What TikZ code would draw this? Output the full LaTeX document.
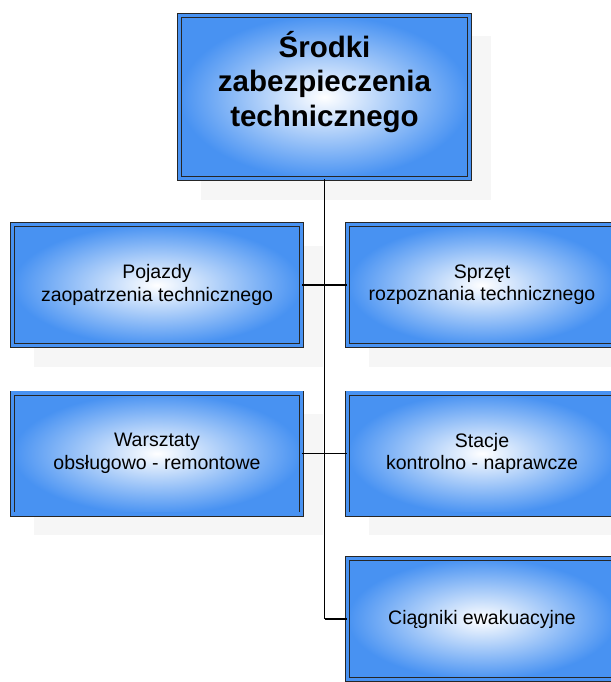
\documentclass[tikz,border=0pt]{standalone}
\usepackage{fontspec}
\setmainfont{Liberation Sans}
\usepackage{tikz}
\usetikzlibrary{positioning,shadows}
\definecolor{boxblue}{RGB}{72,146,242}
\definecolor{shadowgray}{RGB}{246,246,246}
\tikzset{every shadow/.style={fill=shadowgray,opacity=1,shadow xshift=21pt,shadow yshift=-21pt}}
\tikzset{unit/.style={rectangle,draw=black!85,line width=0.8pt,double=boxblue,double distance=3.4pt,
  inner color=white,outer color=boxblue,drop shadow,
  minimum width=289pt,minimum height=121pt,inner sep=0pt,align=center,
  font=\fontsize{19.5}{22.4}\selectfont}}
\tikzset{topunit/.style={unit,minimum width=290pt,minimum height=163pt}}
\tikzset{rightunit/.style={unit,minimum width=269pt}}
\tikzset{toptitle/.style={align=center,inner sep=0pt,font=\bfseries\fontsize{29.5}{34.5}\selectfont}}

\begin{document}
\begin{tikzpicture}[x=1pt,y=-1pt]
\useasboundingbox (0,0) rectangle (610,682);
% \draw[help lines] (0,0) grid (610,682);
\node (top) [topunit] at (324.5,97) {};
\node (toptext) [toptitle] at ([yshift=15pt]top.center) {Środki\\zabezpieczenia\\technicznego};
%
\node (pojazdy) [unit] at (157,285) {Pojazdy\\zaopatrzenia technicznego};
\node (sprzet) [rightunit] at (482,285) {Sprzęt\\rozpoznania technicznego};
\node (warsztaty) [unit] at (157,453.5) {Warsztaty\\obsługowo - remontowe};
\node (stacje) [rightunit] at (482,453.5) {Stacje\\kontrolno - naprawcze};
\node (ciagniki) [rightunit] at (482,619) {Ciągniki ewakuacyjne};
%
\coordinate (bend) at (top.south |- ciagniki.west);
\path[-,line width=1.3pt] (top.south) edge (bend);
\path[-,line width=1.3pt] (bend) edge (ciagniki.west);
\path[-,line width=1.3pt] (pojazdy.east) edge (sprzet.west);
\path[-,line width=1.3pt] (warsztaty.east) edge (stacje.west);
\end{tikzpicture}
\end{document}
